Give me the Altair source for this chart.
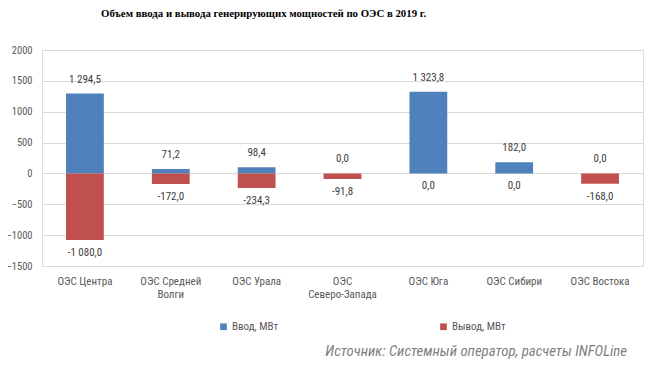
import altair as alt
import pandas as pd

categories = ["ОЭС Центра", "ОЭС Средней\nВолги", "ОЭС Урала", "ОЭС\nСеверо-Запада",
              "ОЭС Юга", "ОЭС Сибири", "ОЭС Востока"]
vvod = [1294.5, 71.2, 98.4, 0.0, 1323.8, 182.0, 0.0]
vyvod = [-1080.0, -172.0, -234.3, -91.8, 0.0, 0.0, -168.0]
series = ["Ввод, МВт", "Вывод, МВт"]
colors = ["#4F81BD", "#C0504D"]
y_ticks = [-1500, -1000, -500, 0, 500, 1000, 1500, 2000]


def fmt(v):
    s = f"{v:,.1f}"
    return s.replace(",", " ").replace(".", ",")


rows = []
for i, c in enumerate(categories):
    rows.append({"cat": c, "series": series[0], "value": vvod[i], "label": fmt(vvod[i]), "order": 0})
    rows.append({"cat": c, "series": series[1], "value": vyvod[i], "label": fmt(vyvod[i]), "order": 1})
df = pd.DataFrame(rows)

FONT = "'Liberation Sans Narrow', 'Roboto Condensed', 'DejaVu Sans Condensed', Roboto"
x_enc = alt.X("cat:N", sort=categories,
              scale=alt.Scale(paddingInner=0.56, paddingOuter=0.28),
              axis=alt.Axis(title=None, labelAngle=0, labelExpr="split(datum.label, '\\n')",
                            labelFont=FONT, labelFontSize=11, labelColor="#595959",
                            labelPadding=9, ticks=False, domain=False, labelLineHeight=13))
y_enc = alt.Y("value:Q", stack=None,
              scale=alt.Scale(domain=[-1500, 2000], nice=False, zero=False),
              axis=alt.Axis(title=None, values=y_ticks, tickCount=20, format="d", labelOverlap=False,
                            labelFont=FONT, labelFontSize=10.5,
                            labelColor="#595959", labelPadding=10, ticks=False, domain=False,
                            gridColor="#D9D9D9", gridWidth=1))

base = alt.Chart(df)

bars = base.mark_bar().encode(
    x=x_enc, y=y_enc,
    color=alt.Color("series:N", sort=series,
                    scale=alt.Scale(domain=series, range=colors),
                    legend=alt.Legend(title=None, orient="none", legendX=176, legendY=271,
                                      direction="horizontal", columns=2, columnPadding=159,
                                      symbolType="square", symbolSize=45, symbolStrokeWidth=0,
                                      labelFont=FONT, labelFontSize=11, labelColor="#595959",
                                      labelOffset=3)),
)

pos_labels = base.transform_filter("datum.order == 0").mark_text(
    font=FONT, fontSize=11, color="#404040", dy=-14, baseline="middle"
).encode(x=alt.X("cat:N", sort=categories), y=alt.Y("value:Q"), text="label:N")

neg_labels = base.transform_filter("datum.order == 1").mark_text(
    font=FONT, fontSize=11, color="#404040", dy=13, baseline="middle"
).encode(x=alt.X("cat:N", sort=categories), y=alt.Y("value:Q"), text="label:N")

source = alt.Chart(pd.DataFrame({"t": ["Источник: Системный оператор, расчеты INFOLine"]})).mark_text(
    font=FONT, fontSize=14.8, fontStyle="italic", color="#7F7F7F", align="right", baseline="middle"
).encode(x=alt.value(585), y=alt.value(302), text="t:N")

chart = alt.layer(bars, pos_labels, neg_labels, source).properties(
    width=601, height=216,
    title=alt.Title("Объем ввода и вывода генерирующих мощностей по ОЭС в 2019 г.",
                    anchor="start", dx=95, offset=26, font="Liberation Serif",
                    fontSize=10.8, fontWeight="bold", color="#000000"),
    autosize=alt.AutoSizeParams(type="none"),
    padding={"left": 34, "top": 42, "right": 2, "bottom": 95},
).configure_view(stroke=None).configure(background="white")

chart.save("out.html", embed_options={"renderer": "svg", "actions": False})
